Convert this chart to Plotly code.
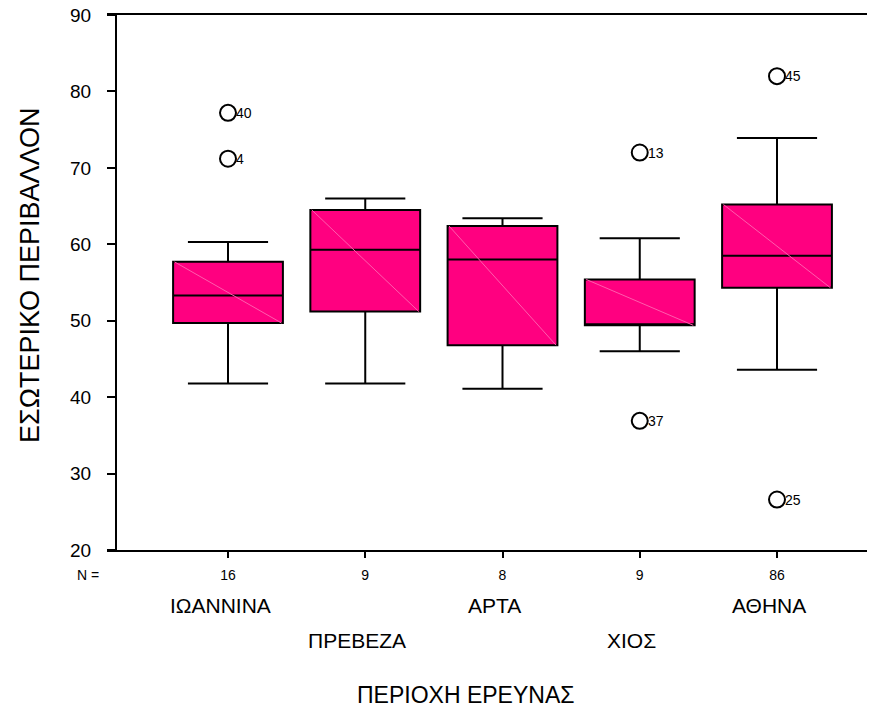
import plotly.graph_objects as go

# ---- data ----
categories = ["ΙΩΑΝΝΙΝΑ", "ΠΡΕΒΕΖΑ", "ΑΡΤΑ", "ΧΙΟΣ", "ΑΘΗΝΑ"]
n_counts = ["16", "9", "8", "9", "86"]
q1 = [49.7, 51.2, 46.8, 49.4, 54.3]
median = [53.3, 59.3, 58.0, 49.4, 58.5]
q3 = [57.7, 64.5, 62.4, 55.4, 65.2]
lower_whisker = [41.8, 41.8, 41.1, 46.0, 43.6]
upper_whisker = [60.3, 66.0, 63.4, 60.8, 73.9]

outlier_group = [0, 0, 3, 3, 4, 4]
outlier_value = [77.2, 71.2, 72.0, 36.9, 82.0, 26.6]
outlier_label = ["40", "4", "13", "37", "45", "25"]

y_ticks = [20, 30, 40, 50, 60, 70, 80, 90]

# ---- styling ----
FONT = "Liberation Sans, Arial, sans-serif"
BOX_COLOR = "#FF0080"
BOX_WIDTH = 0.8
W, H = 869, 724
ML, MR, MT, MB = 107, 2, 15, 174
plot_w = W - ML - MR
pos = list(range(len(categories)))

fig = go.Figure()

fig.add_trace(go.Box(
    x=pos, q1=q1, median=median, q3=q3,
    lowerfence=lower_whisker, upperfence=upper_whisker,
    width=BOX_WIDTH, whiskerwidth=0.73,
    fillcolor=BOX_COLOR, line=dict(color="black", width=2),
    boxpoints=False, hoverinfo="skip", showlegend=False,
))

# faint diagonal across each box (top-left to bottom-right)
dx, dy = [], []
for p, a, b in zip(pos, q3, q1):
    dx += [p - BOX_WIDTH / 2 + 0.01, p + BOX_WIDTH / 2 - 0.01, None]
    dy += [a, b, None]
fig.add_trace(go.Scatter(x=dx, y=dy, mode="lines",
                         line=dict(color="#FF5CAD", width=1),
                         hoverinfo="skip", showlegend=False))

# outliers
fig.add_trace(go.Scatter(
    x=outlier_group, y=outlier_value, mode="markers",
    marker=dict(symbol="circle-open", size=16, color="black",
                line=dict(width=2, color="black")),
    hoverinfo="skip", showlegend=False,
))

x0 = (ML - 228) / 137.25
x1 = (W - MR - 228) / 137.25

fig.update_layout(
    width=W, height=H,
    margin=dict(l=ML, r=MR, t=MT, b=MB),
    paper_bgcolor="white", plot_bgcolor="white",
    font=dict(family=FONT, color="black"),
    xaxis=dict(
        range=[x0, x1], tickvals=pos, ticktext=n_counts,
        showgrid=False, zeroline=False,
        showline=True, linecolor="black", linewidth=2, mirror=True,
        ticks="outside", ticklen=6, tickwidth=2, tickcolor="black",
        tickfont=dict(family=FONT, size=14), ticklabelstandoff=5,
    ),
    yaxis=dict(
        range=[20, 90], tickvals=y_ticks,
        showgrid=False, zeroline=False,
        anchor="free", position=(116 - ML) / plot_w,
        showline=True, linecolor="black", linewidth=2,
        ticks="outside", ticklen=8, tickwidth=2, tickcolor="black",
        tickfont=dict(family=FONT, size=19), ticklabelstandoff=12,
    ),
)

ann = []
for g, v, t in zip(outlier_group, outlier_value, outlier_label):
    ann.append(dict(text=t, x=g, y=v, xref="x", yref="y", xanchor="left",
                    yanchor="middle", xshift=6, showarrow=False,
                    font=dict(family=FONT, size=14)))
ann.append(dict(text="N =", x=(88 - ML) / plot_w, xref="paper", y=0, yref="paper",
                yshift=-25, xanchor="center", yanchor="middle", showarrow=False,
                font=dict(family=FONT, size=14)))
for i, name in enumerate(categories):
    ann.append(dict(text=name, x=pos[i], xref="x", y=0, yref="paper",
                    yshift=-55 if i % 2 == 0 else -90, xshift=-8,
                    xanchor="center", yanchor="middle", showarrow=False,
                    font=dict(family=FONT, size=21)))
ann.append(dict(text="ΠΕΡΙΟΧΗ ΕΡΕΥΝΑΣ", x=(465 - ML) / plot_w, xref="paper",
                y=0, yref="paper", yshift=-145, xanchor="center", yanchor="middle",
                showarrow=False, font=dict(family=FONT, size=23)))
ann.append(dict(text="ΕΣΩΤΕΡΙΚΟ ΠΕΡΙΒΑΛΛΟΝ", x=(30 - ML) / plot_w, xref="paper",
                y=(H - MB - 275) / (H - MB - MT), yref="paper", textangle=-90,
                xanchor="center", yanchor="middle", showarrow=False,
                font=dict(family=FONT, size=27)))
fig.update_layout(annotations=ann)

fig.write_html("out.html")
